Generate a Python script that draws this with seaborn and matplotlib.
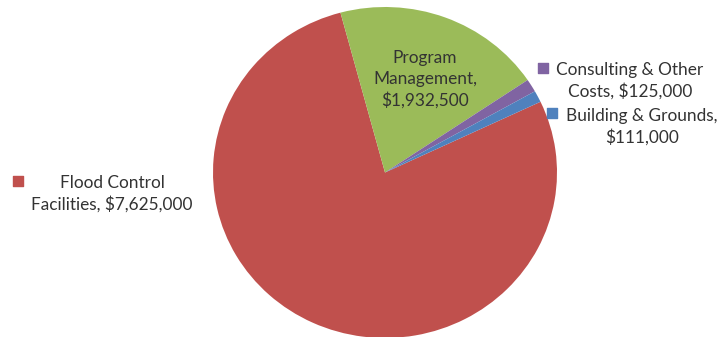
import matplotlib
matplotlib.use("Agg")
import matplotlib.pyplot as plt
import seaborn as sns

categories = ["Flood Control Facilities", "Program Management",
              "Consulting & Other Costs", "Building & Grounds"]
amounts = [7625000, 1932500, 125000, 111000]
label_lines = [["Flood Control", "Facilities, $7,625,000"],
               ["Program", "Management,", "$1,932,500"],
               ["Consulting & Other", "Costs, $125,000"],
               ["Building & Grounds,", "$111,000"]]

sns.set_theme(style="white")
plt.rcParams["font.family"] = ["Lato", "DejaVu Sans"]
colors = ["#C0504D", "#9BBB59", "#8064A2", "#4F81BD"]

W, H = 719, 337
fig = plt.figure(figsize=(W / 100, H / 100), dpi=100)

# pie axes (slightly squashed vertically)
ax = fig.add_axes([213 / W, -1 / H, 344 / W, 331 / H])
ax.pie(amounts, colors=colors, startangle=25.3, counterclock=False,
       radius=1.0, wedgeprops=dict(linewidth=0))
ax.set_aspect("auto")
ax.set_xlim(-1, 1)
ax.set_ylim(-1, 1)
ax.axis("off")

# overlay axes in pixel coordinates for labels
ov = fig.add_axes([0, 0, 1, 1])
ov.set_xlim(0, W)
ov.set_ylim(H, 0)
ov.axis("off")

txt = "#333333"
fs = 12.4
lh = 21

def block(lines, cx, y0):
    for i, s in enumerate(lines):
        ov.text(cx, y0 + i * lh, s, ha="center", va="center", fontsize=fs, color=txt)

block(label_lines[0], 112, 183)
ov.scatter([18], [181], marker="s", s=48, color=colors[0])
block(label_lines[1], 425, 58)
block(label_lines[2], 630, 70)
ov.scatter([543], [68], marker="s", s=48, color=colors[2])
block(label_lines[3], 642, 116)
ov.scatter([552], [113], marker="s", s=48, color=colors[3])

fig.savefig("out.png", dpi=100)
